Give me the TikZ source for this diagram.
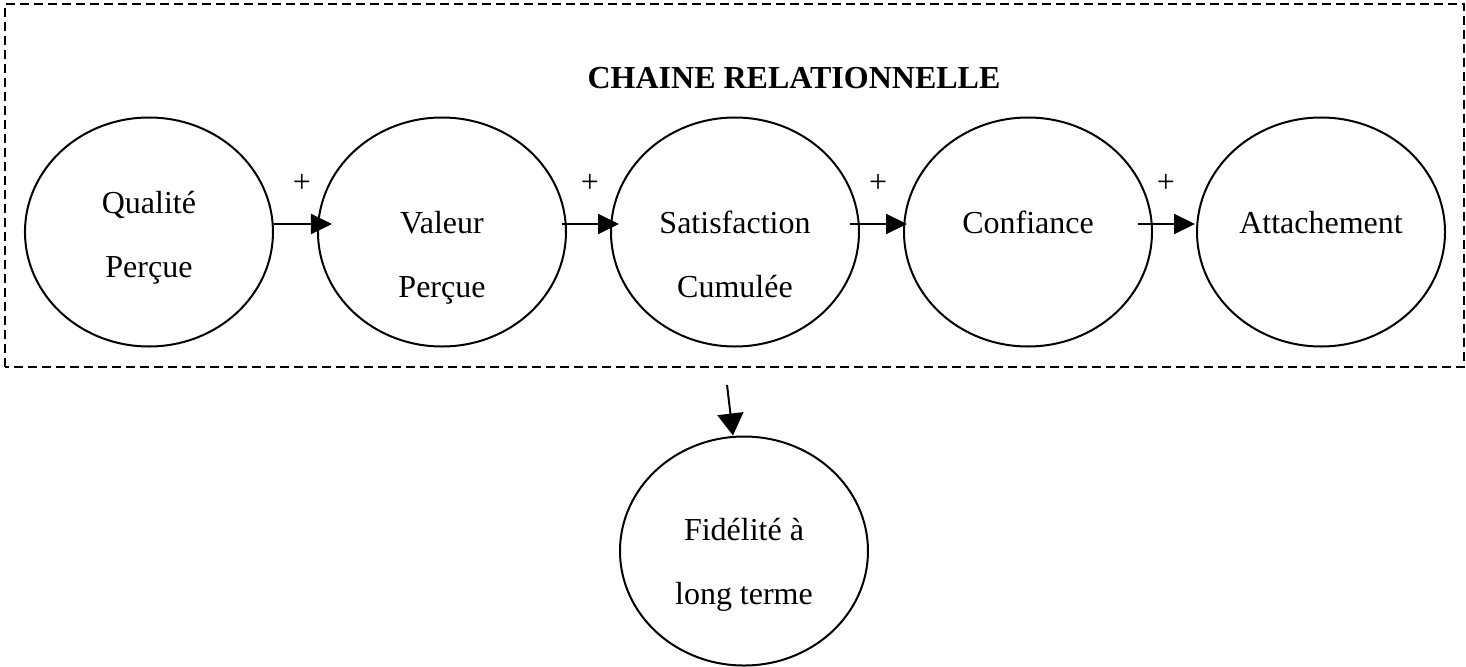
\documentclass[tikz,border=0pt]{standalone}
\usepackage{fontspec}
\setmainfont{Liberation Serif}
\usetikzlibrary{arrows.meta,shapes.geometric}
\tikzset{
  bulle/.style={draw, ellipse, line width=1pt, minimum width=124pt, minimum height=114.5pt, inner sep=0pt, align=center, font=\fontsize{16}{32}\selectfont, text depth=0pt},
  fleche/.style={-{Triangle[length=10.5pt,width=10pt]}, line width=1pt},
  signe/.style={font=\fontsize{16}{19}\selectfont, inner sep=0pt}
}
\begin{document}
\begin{tikzpicture}[x=1cm,y=1cm]
\useasboundingbox (0,0) rectangle (25.762,11.721);
\draw[line width=1.2pt, dash pattern=on 4.5pt off 2.5pt] (0.088,5.272) rectangle (25.727,11.651);
\node[font=\fontsize{16}{19}\selectfont\bfseries] (titre) at (13.953,10.351) {CHAINE RELATIONNELLE};
\node[bulle, text height=45pt] (q) at (2.618,7.644) {Qualité\\Perçue};
\node[bulle, text height=65pt] (v) at (7.767,7.644) {Valeur\\Perçue};
\node[bulle, text height=65pt] (s) at (12.916,7.644) {Satisfaction\\Cumulée};
\node[bulle, text height=11pt, text depth=10pt] (c) at (18.065,7.644) {Confiance};
\node[bulle, text height=11pt, text depth=10pt] (a) at (23.214,7.644) {Attachement};
\node[bulle, text height=53pt] (f) at (13.074,2.038) {Fidélité à\\long terme};
\draw[fleche, shorten >=-7.5pt] ([yshift=4pt]q.east) -- ([yshift=4pt]v.west) node[signe, pos=0.65, yshift=20.5pt] (p1) {+};
\draw[fleche, shorten <=-2.5pt, shorten >=-4.5pt] ([yshift=4pt]v.east) -- ([yshift=4pt]s.west) node[signe, pos=0.53, yshift=20.5pt] (p2) {+};
\draw[fleche, shorten <=-5pt, shorten >=-2pt] ([yshift=4pt]s.east) -- ([yshift=4pt]c.west) node[signe, pos=0.42, yshift=20.5pt] (p3) {+};
\draw[fleche, shorten <=-7.5pt, shorten >=0.5pt] ([yshift=4pt]c.east) -- ([yshift=4pt]a.west) node[signe, pos=0.30, yshift=20.5pt] (p4) {+};
\coordinate (src) at (12.776,4.956);
\draw[-{Triangle[length=11pt,width=13pt]}, line width=1pt] (src) -- ([xshift=-5.5pt]f.north);
\end{tikzpicture}
\end{document}
